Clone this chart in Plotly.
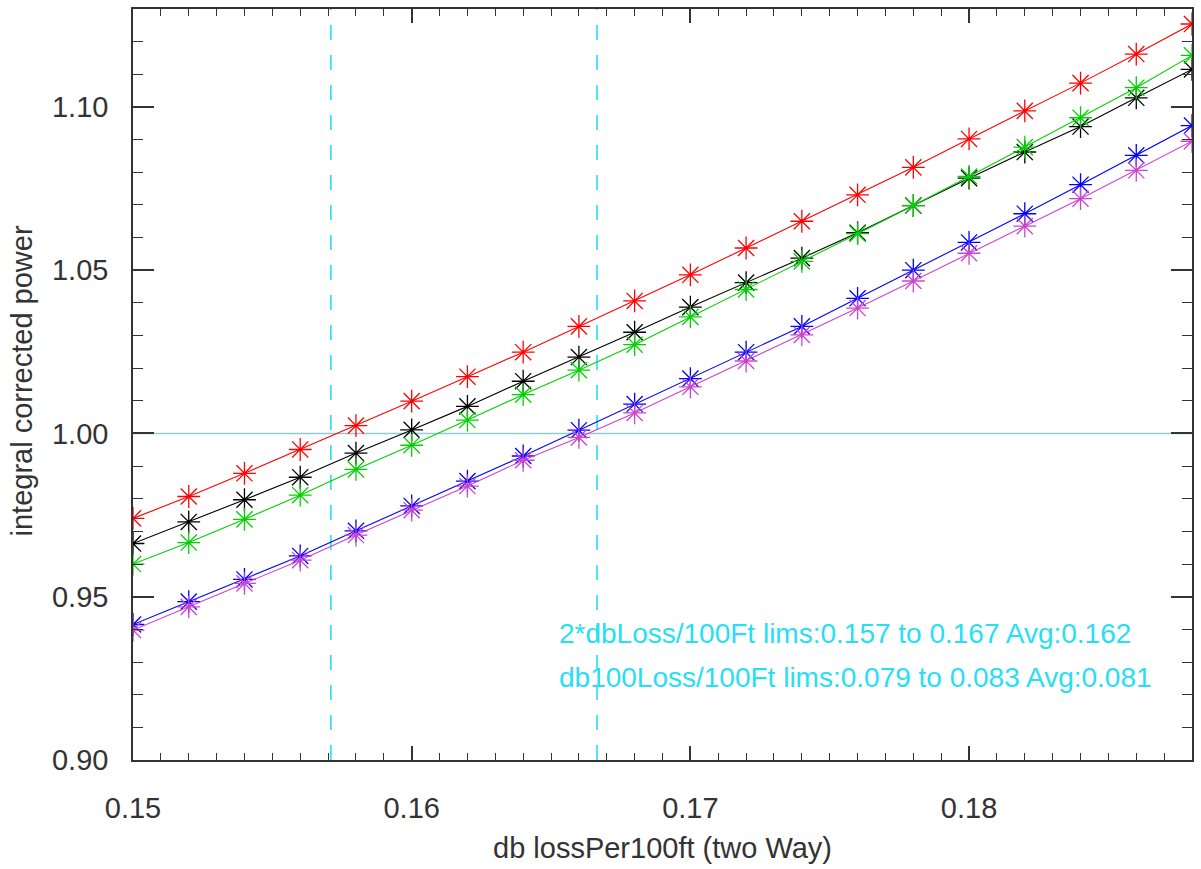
import plotly.graph_objects as go

x_vals = [0.150, 0.152, 0.154, 0.156, 0.158, 0.160, 0.162, 0.164, 0.166, 0.168,
          0.170, 0.172, 0.174, 0.176, 0.178, 0.180, 0.182, 0.184, 0.186, 0.188]

red_vals = [0.9740, 0.9807, 0.9878, 0.9951, 1.0024, 1.0099, 1.0174, 1.0249, 1.0328, 1.0406,
            1.0486, 1.0568, 1.0650, 1.0731, 1.0815, 1.0902, 1.0988, 1.1073, 1.1162, 1.1254]
black_vals = [0.9663, 0.9729, 0.9797, 0.9866, 0.9940, 1.0011, 1.0083, 1.0160, 1.0234, 1.0310,
              1.0387, 1.0462, 1.0537, 1.0615, 1.0698, 1.0782, 1.0862, 1.0940, 1.1028, 1.1115]
green_vals = [0.9600, 0.9666, 0.9737, 0.9811, 0.9890, 0.9964, 1.0041, 1.0119, 1.0194, 1.0272,
              1.0357, 1.0441, 1.0527, 1.0612, 1.0698, 1.0787, 1.0877, 1.0967, 1.1059, 1.1158]
blue_vals = [0.9415, 0.9485, 0.9553, 0.9625, 0.9702, 0.9778, 0.9854, 0.9931, 1.0010, 1.0090,
             1.0168, 1.0249, 1.0328, 1.0414, 1.0500, 1.0585, 1.0673, 1.0762, 1.0852, 1.0943]
magenta_vals = [0.9398, 0.9469, 0.9541, 0.9612, 0.9689, 0.9765, 0.9839, 0.9918, 0.9988, 1.0063,
                1.0143, 1.0222, 1.0302, 1.0384, 1.0467, 1.0552, 1.0635, 1.0719, 1.0806, 1.0895]

lims = [0.1571, 0.16665]
ref_level = 1.0
x_range = [0.150, 0.188]
y_range = [0.90, 1.13]

note_lines = ["2*dbLoss/100Ft lims:0.157 to 0.167 Avg:0.162",
              "db100Loss/100Ft lims:0.079 to 0.083 Avg:0.081"]
note_y = [0.9386, 0.9254]
note_x = 0.1652

FONT = "Liberation Sans, Arial, Helvetica, sans-serif"
AX = "#333333"
CYAN = "#28def4"

fig = go.Figure()

# reference horizontal line
fig.add_trace(go.Scatter(x=x_range, y=[ref_level, ref_level], mode="lines",
                         line=dict(color="#8fcdd2", width=1.3), hoverinfo="skip", showlegend=False))
# limit lines
for lx in lims:
    fig.add_trace(go.Scatter(x=[lx, lx], y=y_range, mode="lines",
                             line=dict(color=CYAN, width=1.6, dash="15px,15px"),
                             hoverinfo="skip", showlegend=False))

series = [
    (black_vals, "#000000"),
    (red_vals, "#ff0000"),
    (green_vals, "#00d200"),
    (blue_vals, "#0000ff"),
    (magenta_vals, "#cc44cc"),
]
for vals, col in series:
    fig.add_trace(go.Scatter(
        x=x_vals, y=vals, mode="lines+markers",
        line=dict(color=col, width=1.1),
        marker=dict(symbol="asterisk-open", size=19, line=dict(color=col, width=1.3), color=col),
        showlegend=False))

annotations = []
for t, yy in zip(note_lines, note_y):
    annotations.append(dict(x=note_x, y=yy, xref="x", yref="y", text=t, showarrow=False,
                            xanchor="left", yanchor="middle",
                            font=dict(family=FONT, size=28, color=CYAN)))
annotations.append(dict(x=0.5, y=0, xref="paper", yref="paper", text="db lossPer100ft (two Way)",
                        showarrow=False, xanchor="center", yanchor="middle", yshift=-88,
                        font=dict(family=FONT, size=29, color="#333333")))
annotations.append(dict(x=0, y=0.504, xref="paper", yref="paper", text="integral corrected power",
                        showarrow=False, xanchor="center", yanchor="middle", xshift=-111,
                        textangle=-90, font=dict(family=FONT, size=29, color="#333333")))

fig.update_layout(
    width=1201, height=869,
    margin=dict(l=133, r=7, t=8, b=109),
    paper_bgcolor="white", plot_bgcolor="white",
    font=dict(family=FONT, color="#333333"),
    annotations=annotations,
)
fig.update_xaxes(
    range=x_range, showgrid=False, zeroline=False,
    showline=True, linecolor=AX, linewidth=1.5, mirror="allticks",
    ticks="inside", ticklen=14, tickwidth=1.5, tickcolor=AX,
    tick0=0.15, dtick=0.01, tickformat=".2f",
    tickfont=dict(family=FONT, size=29, color="#333333"),
    ticklabelstandoff=21,
    minor=dict(ticks="inside", ticklen=7, tickwidth=1.2, tickcolor=AX, dtick=0.001, showgrid=False),
)
fig.update_yaxes(
    range=y_range, showgrid=False, zeroline=False,
    showline=True, linecolor=AX, linewidth=1.5, mirror="allticks",
    ticks="inside", ticklen=21, tickwidth=1.5, tickcolor=AX,
    tick0=0.9, dtick=0.05, tickformat=".2f",
    tickfont=dict(family=FONT, size=29, color="#333333"),
    ticklabelstandoff=17,
    minor=dict(ticks="inside", ticklen=10, tickwidth=1.2, tickcolor=AX, dtick=0.01, showgrid=False),
)

fig.write_html("out.html")
